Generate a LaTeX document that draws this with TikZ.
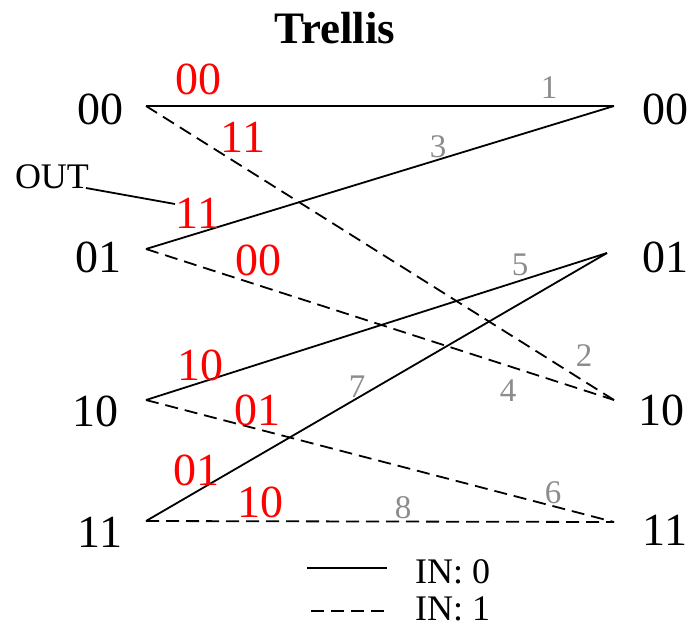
\documentclass[tikz,border=0pt]{standalone}
\usepackage{fontspec}
\setmainfont{Liberation Serif}
\definecolor{numgray}{HTML}{8C8C8C}
\begin{document}
\begin{tikzpicture}[x=1pt,y=-1pt,
  state/.style={anchor=base,inner sep=0pt,font=\fontsize{46}{50}\selectfont},
  outlab/.style={anchor=base,inner sep=0pt,text=red,font=\fontsize{46}{50}\selectfont},
  numlab/.style={anchor=base,inner sep=0pt,text=numgray,font=\fontsize{33}{36}\selectfont},
  smalltext/.style={anchor=base,inner sep=0pt,font=\fontsize{36}{40}\selectfont},
  zero/.style={line width=1.8pt},
  one/.style={line width=1.8pt,dash pattern=on 13pt off 7pt}]
\useasboundingbox (0,0) rectangle (693,627);
% title
\node[anchor=base,inner sep=0pt,font=\fontsize{45}{50}\selectfont\bfseries] (title) at (335,43) {Trellis};
% state endpoints
\coordinate (L0) at (146,106);
\coordinate (L1) at (146,249);
\coordinate (L2) at (146,400);
\coordinate (L3) at (146,521);
\coordinate (R0) at (614,106);
\coordinate (R1) at (607,253);
\coordinate (R2) at (614,400);
\coordinate (R3) at (614,522);
% state labels
\node[state] (l0) at (100,124) {00};
\node[state] (l1) at (98,272) {01};
\node[state] (l2) at (95,426) {10};
\node[state] (l3) at (100,547) {11};
\node[state] (r0) at (665,124) {00};
\node[state] (r1) at (665,272) {01};
\node[state] (r2) at (661,425) {10};
\node[state] (r3) at (665,545) {11};
% transitions
\draw[zero] (L0) -- (R0);
\draw[one]  (L0) -- (R2);
\draw[zero] (L1) -- (R0);
\draw[one]  (L1) -- (R2);
\draw[zero] (L2) -- (R1);
\draw[one]  (L2) -- (R3);
\draw[zero] (L3) -- (R1);
\draw[one]  (L3) -- (R3);
% output labels
\node[outlab] (o1) at (198,94) {00};
\node[outlab] (o2) at (243,152) {11};
\node[outlab] (o3) at (198,228) {11};
\node[outlab] (o4) at (258,275) {00};
\node[outlab] (o5) at (200,380) {10};
\node[outlab] (o6) at (257,425) {01};
\node[outlab] (o7) at (196,485) {01};
\node[outlab] (o8) at (260,517) {10};
% branch numbers
\node[numlab] (n1) at (549,98) {1};
\node[numlab] (n2) at (584,366) {2};
\node[numlab] (n3) at (438,157) {3};
\node[numlab] (n4) at (508,401) {4};
\node[numlab] (n5) at (520,275) {5};
\node[numlab] (n6) at (553,503) {6};
\node[numlab] (n7) at (357,397) {7};
\node[numlab] (n8) at (403,518) {8};
% OUT pointer
\node[smalltext] (out) at (52,188) {OUT};
\coordinate (outA) at (86,188);
\coordinate (outB) at (175,204);
\draw[line width=1.8pt] (outA) -- (outB);
% legend
\coordinate (s1) at (307,568);
\coordinate (s2) at (387,568);
\coordinate (d1) at (311,611);
\coordinate (d2) at (390,611);
\draw[zero] (s1) -- (s2);
\draw[one] (d1) -- (d2);
\node[smalltext,anchor=base west] (in0) at (415,583) {IN: 0};
\node[smalltext,anchor=base west] (in1) at (415,620) {IN: 1};
\end{tikzpicture}
\end{document}
